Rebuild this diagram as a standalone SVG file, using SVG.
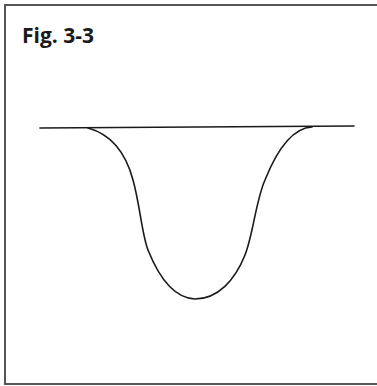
<svg xmlns="http://www.w3.org/2000/svg" width="377" height="386" viewBox="0 0 377 386">
<style>
.ln{fill:none;stroke:#1a1a1a;stroke-width:1.6;stroke-linecap:round;stroke-linejoin:round}
.frame{fill:none;stroke:#444;stroke-width:1.8}
.title{font-family:"Open Sans","Liberation Sans",sans-serif;font-weight:bold;font-size:21px;fill:#1a1a1a}
</style>
<rect width="377" height="386" fill="#fff"/>
<rect class="frame" x="5" y="5" width="380" height="379"/>
<text class="title" x="22" y="43">Fig. 3-3</text>
<g id="figure">
<path class="ln" d="M40,128 L354,126"/>
<path class="ln" d="M88,128 C110,134 125,150 133,180 C140,205 142,235 148,250 C158,275 172,298 195,299 C218,299 235,280 245,255 C253,235 256,200 265,180 C275,155 290,128 312,127"/>
</g>
</svg>
